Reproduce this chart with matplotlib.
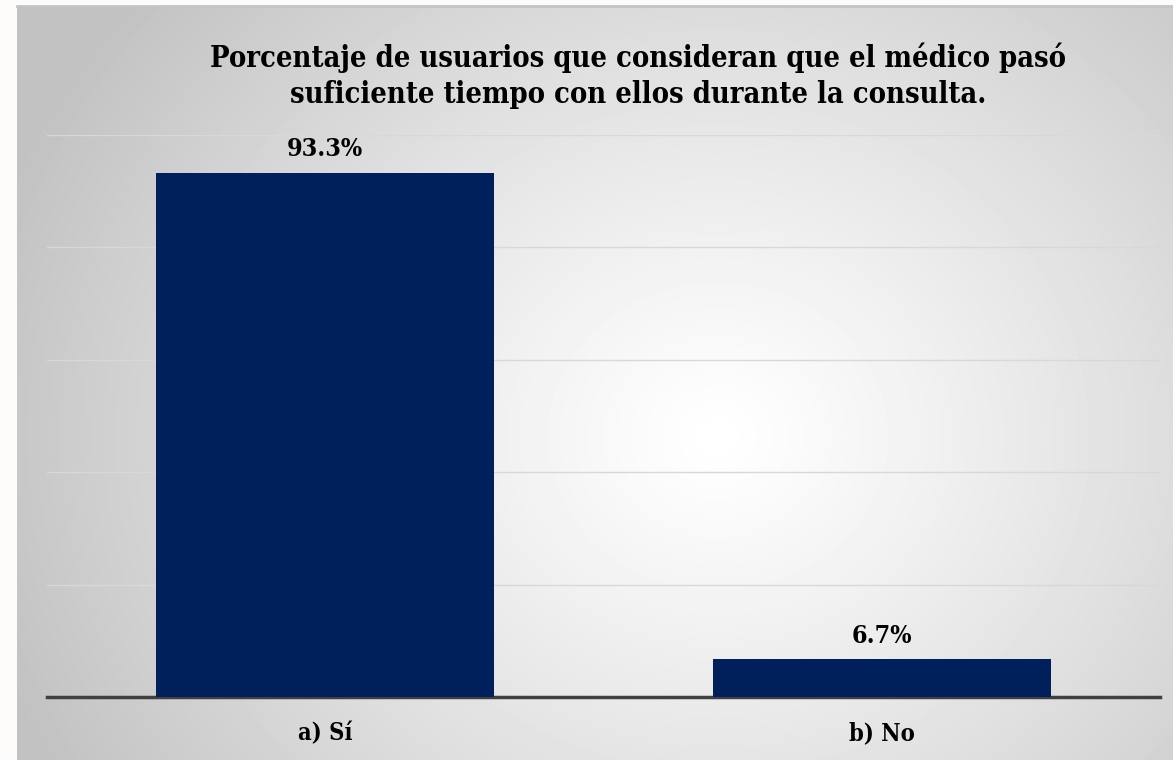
import matplotlib.pyplot as plt
import numpy as np

categories = ['a) Sí', 'b) No']
percentages = [93.3, 6.7]
title_lines = ['Porcentaje de usuarios que consideran que el médico pasó',
               'suficiente tiempo con ellos durante la consulta.']

W, H = 1173, 760
serif = 'DejaVu Serif'
fig = plt.figure(figsize=(W / 100, H / 100), dpi=100)
fig.patch.set_facecolor('#fdfcfa')

# radial gray gradient behind the chart area
bg = fig.add_axes([17 / W, 0, 1 - 17 / W, 1 - 6 / H])
yy, xx = np.mgrid[0:754, 0:1156]
cx, cy = 700, 430
r = np.sqrt((xx - cx) ** 2 + ((yy - cy) / 0.9) ** 2)
r = np.clip(r / 760, 0, 1)
shade = 1.0 - 0.24 * r ** 1.15
bg.imshow(shade, cmap='gray', vmin=0, vmax=1, aspect='auto', interpolation='bilinear')
bg.set_axis_off()
fig.add_artist(plt.Line2D([17 / W, 1], [1 - 6 / H, 1 - 6 / H], color='#c4c4c4', lw=2))

ax = fig.add_axes([47 / W, 1 - 697 / H, (1160 - 47) / W, (697 - 135) / H])
ax.patch.set_alpha(0)
x = np.arange(len(categories))
bars = ax.bar(x, percentages, width=0.607, color='#00205b', zorder=3)
ax.set_xlim(-0.5, 1.5)
ax.set_ylim(0, 100)
ax.set_yticks([20, 40, 60, 80, 100])
ax.yaxis.grid(True, color='#d8d8d8', lw=1, zorder=0)
ax.tick_params(left=False, labelleft=False, bottom=False)
for s in ['top', 'right', 'left']:
    ax.spines[s].set_visible(False)
ax.spines['bottom'].set_color('#404040')
ax.spines['bottom'].set_linewidth(2.5)
ax.set_xticks(x)
ax.set_xticklabels(categories, fontsize=17, fontweight='bold', family=serif,
                   stretch='condensed')
ax.tick_params(axis='x', pad=14)

for b, v in zip(bars, percentages):
    ax.annotate(f'{v:.1f}%', (b.get_x() + b.get_width() / 2, v), xytext=(0, 12),
                textcoords='offset points', ha='center', va='baseline',
                fontsize=18, fontweight='bold', family=serif, stretch='condensed')

for line, base in zip(title_lines, [67, 103]):
    fig.text(638 / W, 1 - base / H, line, ha='center', va='baseline', fontsize=20.8,
             fontweight='bold', family=serif, stretch='condensed')

fig.savefig('out.png', dpi=100)
